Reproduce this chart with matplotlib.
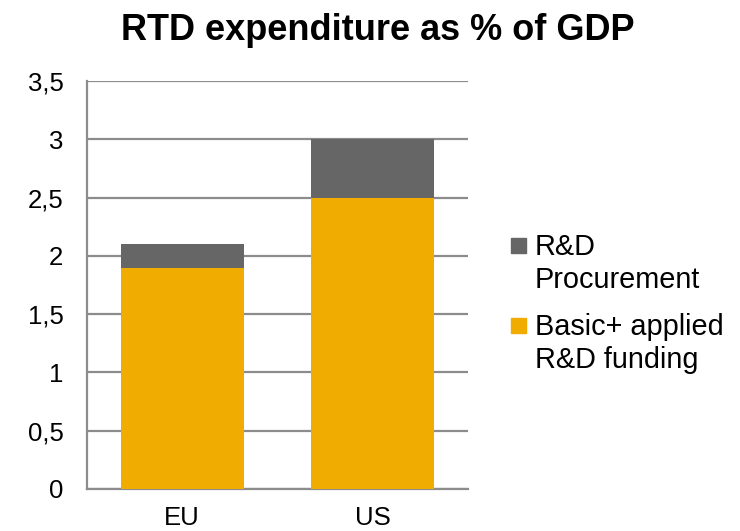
import matplotlib
matplotlib.use("Agg")
import matplotlib.pyplot as plt
from matplotlib.patches import Rectangle
import numpy as np

plt.rcParams['font.family'] = ['Liberation Sans', 'DejaVu Sans']

categories = ["EU", "US"]
basic_applied = [1.9, 2.5]
procurement = [0.2, 0.5]
yticks = [0, 0.5, 1, 1.5, 2, 2.5, 3, 3.5]
ytick_labels = ["0", "0,5", "1", "1,5", "2", "2,5", "3", "3,5"]
series_labels = ["R&D\nProcurement", "Basic+ applied\nR&D funding"]

c_orange = "#F0AC00"
c_gray = "#666666"
grid_c = "#8C8C8C"

fig = plt.figure(figsize=(7.4, 5.31), dpi=100)
ax = fig.add_axes([0.1176, 0.0791, 0.5144, 0.7684])

x = np.arange(len(categories))
b1 = ax.bar(x, basic_applied, width=0.645, color=c_orange, zorder=3)
b2 = ax.bar(x, procurement, bottom=basic_applied, width=0.645, color=c_gray, zorder=3)

ax.set_xlim(-0.5, 1.5)
ax.set_ylim(0, 3.5)
ax.set_yticks(yticks)
ax.set_yticklabels(ytick_labels)
ax.set_xticks(x)
ax.set_xticklabels(categories)
ax.tick_params(axis='both', length=0, labelsize=18.5)
ax.tick_params(axis='x', pad=12.5)
ax.tick_params(axis='y', pad=17)

ax.yaxis.grid(True, color=grid_c, linewidth=1.6, zorder=0)
ax.set_axisbelow(True)
for s in ["top", "right"]:
    ax.spines[s].set_visible(False)
for s in ["left", "bottom"]:
    ax.spines[s].set_color(grid_c)
    ax.spines[s].set_linewidth(1.6)

fig.text(0.511, 0.943, "RTD expenditure as % of GDP", ha='center', va='center',
         fontsize=26, fontweight='bold')

# legend drawn manually: marker aligned with first line of each label
W, H = 740.0, 531.0
line_gap = 33
legend_items = [(c_gray, series_labels[0], 255), (c_orange, series_labels[1], 335)]
for col, lab, base_px in legend_items:
    fig.patches.append(Rectangle((511 / W, 1 - (base_px - 2) / H), 15 / W, 15 / H,
                                 transform=fig.transFigure, color=col))
    for i, line in enumerate(lab.split("\n")):
        fig.text(535 / W, 1 - (base_px + i * line_gap) / H, line, ha='left',
                 va='baseline', fontsize=20.8)

fig.savefig("out.png", dpi=100)
